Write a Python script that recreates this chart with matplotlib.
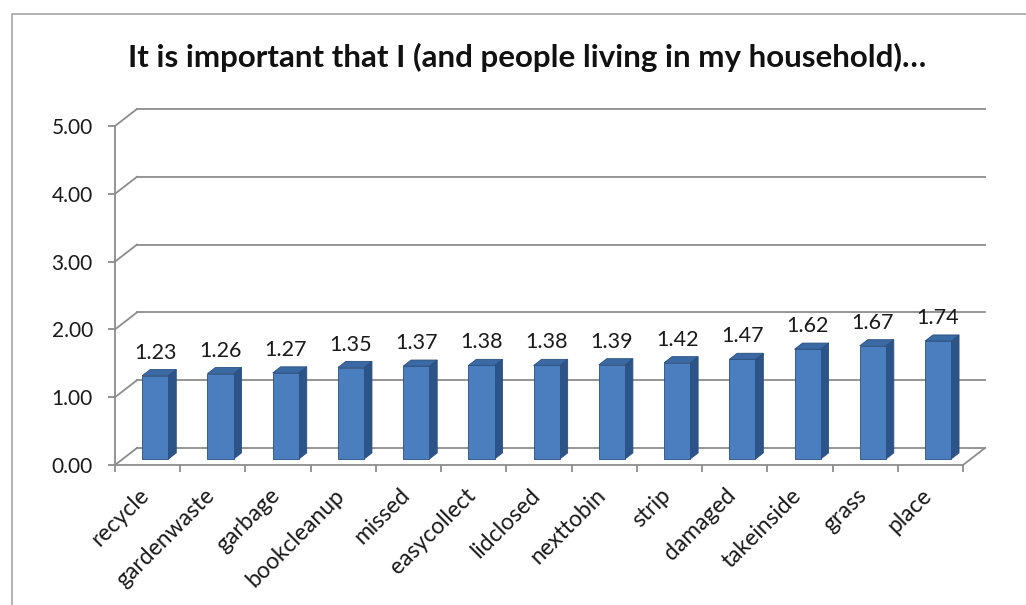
import numpy as np
import matplotlib
matplotlib.use("Agg")
from matplotlib import pyplot as plt
from matplotlib.patches import Polygon, Rectangle
from matplotlib.transforms import ScaledTranslation

categories = ["recycle", "gardenwaste", "garbage", "bookcleanup", "missed",
              "easycollect", "lidclosed", "nexttobin", "strip", "damaged",
              "takeinside", "grass", "place"]
values = [1.23, 1.26, 1.27, 1.35, 1.37, 1.38, 1.38, 1.39, 1.42, 1.47,
          1.62, 1.67, 1.74]
yticks = [0, 1, 2, 3, 4, 5]
title = "It is important that I (and people living in my household)\u2026"

plt.rcParams['font.family'] = ['Lato', 'DejaVu Sans']

# fake 3D: offset of the back wall relative to the front plane (data units)
DX, DY = 0.337, 0.251
D0, D1 = 0.35, 0.71      # bar front / back depth as fraction of the floor
BW = 0.40
GRID = "#8c8c8c"
FRONT, SIDE, TOP, EDGE = "#4a7ebf", "#2c5488", "#3b69a3", "#2a4f80"
TXT = "#1a1a1a"

fig = plt.figure(figsize=(10.26, 6.05), dpi=100)
ax = fig.add_axes([115 / 1026, 140 / 605, 848 / 1026, 339 / 605])
n = len(categories)
x = np.arange(n)
ax.set_xlim(-0.5, n - 0.5)
ax.set_ylim(0, 5)

# back wall gridlines with the diagonal on the left wall
for v in yticks:
    ax.plot([-0.5 + DX, n - 0.5 + DX], [v + DY, v + DY], color=GRID, lw=1.3,
            clip_on=False, zorder=1)
    ax.plot([-0.5, -0.5 + DX], [v, v + DY], color=GRID, lw=1.3,
            clip_on=False, zorder=1)
# right edge of the floor
ax.plot([n - 0.5, n - 0.5 + DX], [0, DY], color=GRID, lw=1.3, clip_on=False)

# bars: front face through ax.bar, sides and tops as polygons
xf = x + D0 * DX - BW / 2
base = D0 * DY
dd = (D1 - D0)
ax.bar(x + D0 * DX, values, width=BW, bottom=base, color=FRONT,
       edgecolor=EDGE, linewidth=0.6, zorder=4)
for xl, v in zip(xf, values):
    xr = xl + BW
    top = base + v
    side = [(xr, base), (xr + dd * DX, base + dd * DY),
            (xr + dd * DX, top + dd * DY), (xr, top)]
    lid = [(xl, top), (xr, top), (xr + dd * DX, top + dd * DY),
           (xl + dd * DX, top + dd * DY)]
    ax.add_patch(Polygon(side, closed=True, facecolor=SIDE, edgecolor=EDGE,
                         lw=0.6, zorder=3, clip_on=False))
    ax.add_patch(Polygon(lid, closed=True, facecolor=TOP, edgecolor=EDGE,
                         lw=0.6, zorder=3, clip_on=False))

# value labels above the bars
lab_off = ScaledTranslation(0, 23 / 100, fig.dpi_scale_trans)
for xi, v in zip(x, values):
    ax.text(xi + D0 * DX, v + base, "{:.2f}".format(v), ha="center",
            va="center", fontsize=15.5, color=TXT,
            transform=ax.transData + lab_off)

# axes: front left axis and front floor line
for s in ["top", "right"]:
    ax.spines[s].set_visible(False)
for s in ["left", "bottom"]:
    ax.spines[s].set_color(GRID)
    ax.spines[s].set_linewidth(1.3)
ax.set_yticks(yticks)
ax.set_yticklabels(["{:.2f}".format(v) for v in yticks], fontsize=15,
                   color=TXT)
ax.tick_params(axis="y", length=5, width=1.3, color=GRID, pad=11)
ax.set_xticks(np.arange(n + 1) - 0.5)
ax.set_xticklabels([])
ax.tick_params(axis="x", length=5, width=1.3, color=GRID)

cat_off = ScaledTranslation(-2 / 100, -27 / 100, fig.dpi_scale_trans)
for xi, c in zip(x, categories):
    ax.text(xi, 0, c, rotation=45, rotation_mode="anchor", ha="right",
            va="center", fontsize=16.5, color=TXT,
            transform=ax.transData + cat_off)

fig.text(527 / 1026, 1 - 57 / 605, title, ha="center", va="center",
         fontsize=22.5, fontweight="bold", color="#111111")

# chart area border (only top and left fall inside the image)
fig.patches.append(Rectangle((12 / 1026, -0.2), 1.2, 1.2 - 14 / 605,
                             transform=fig.transFigure, fill=False,
                             edgecolor="#a6a6a6", lw=1.2))

fig.savefig("out.png", dpi=100)
